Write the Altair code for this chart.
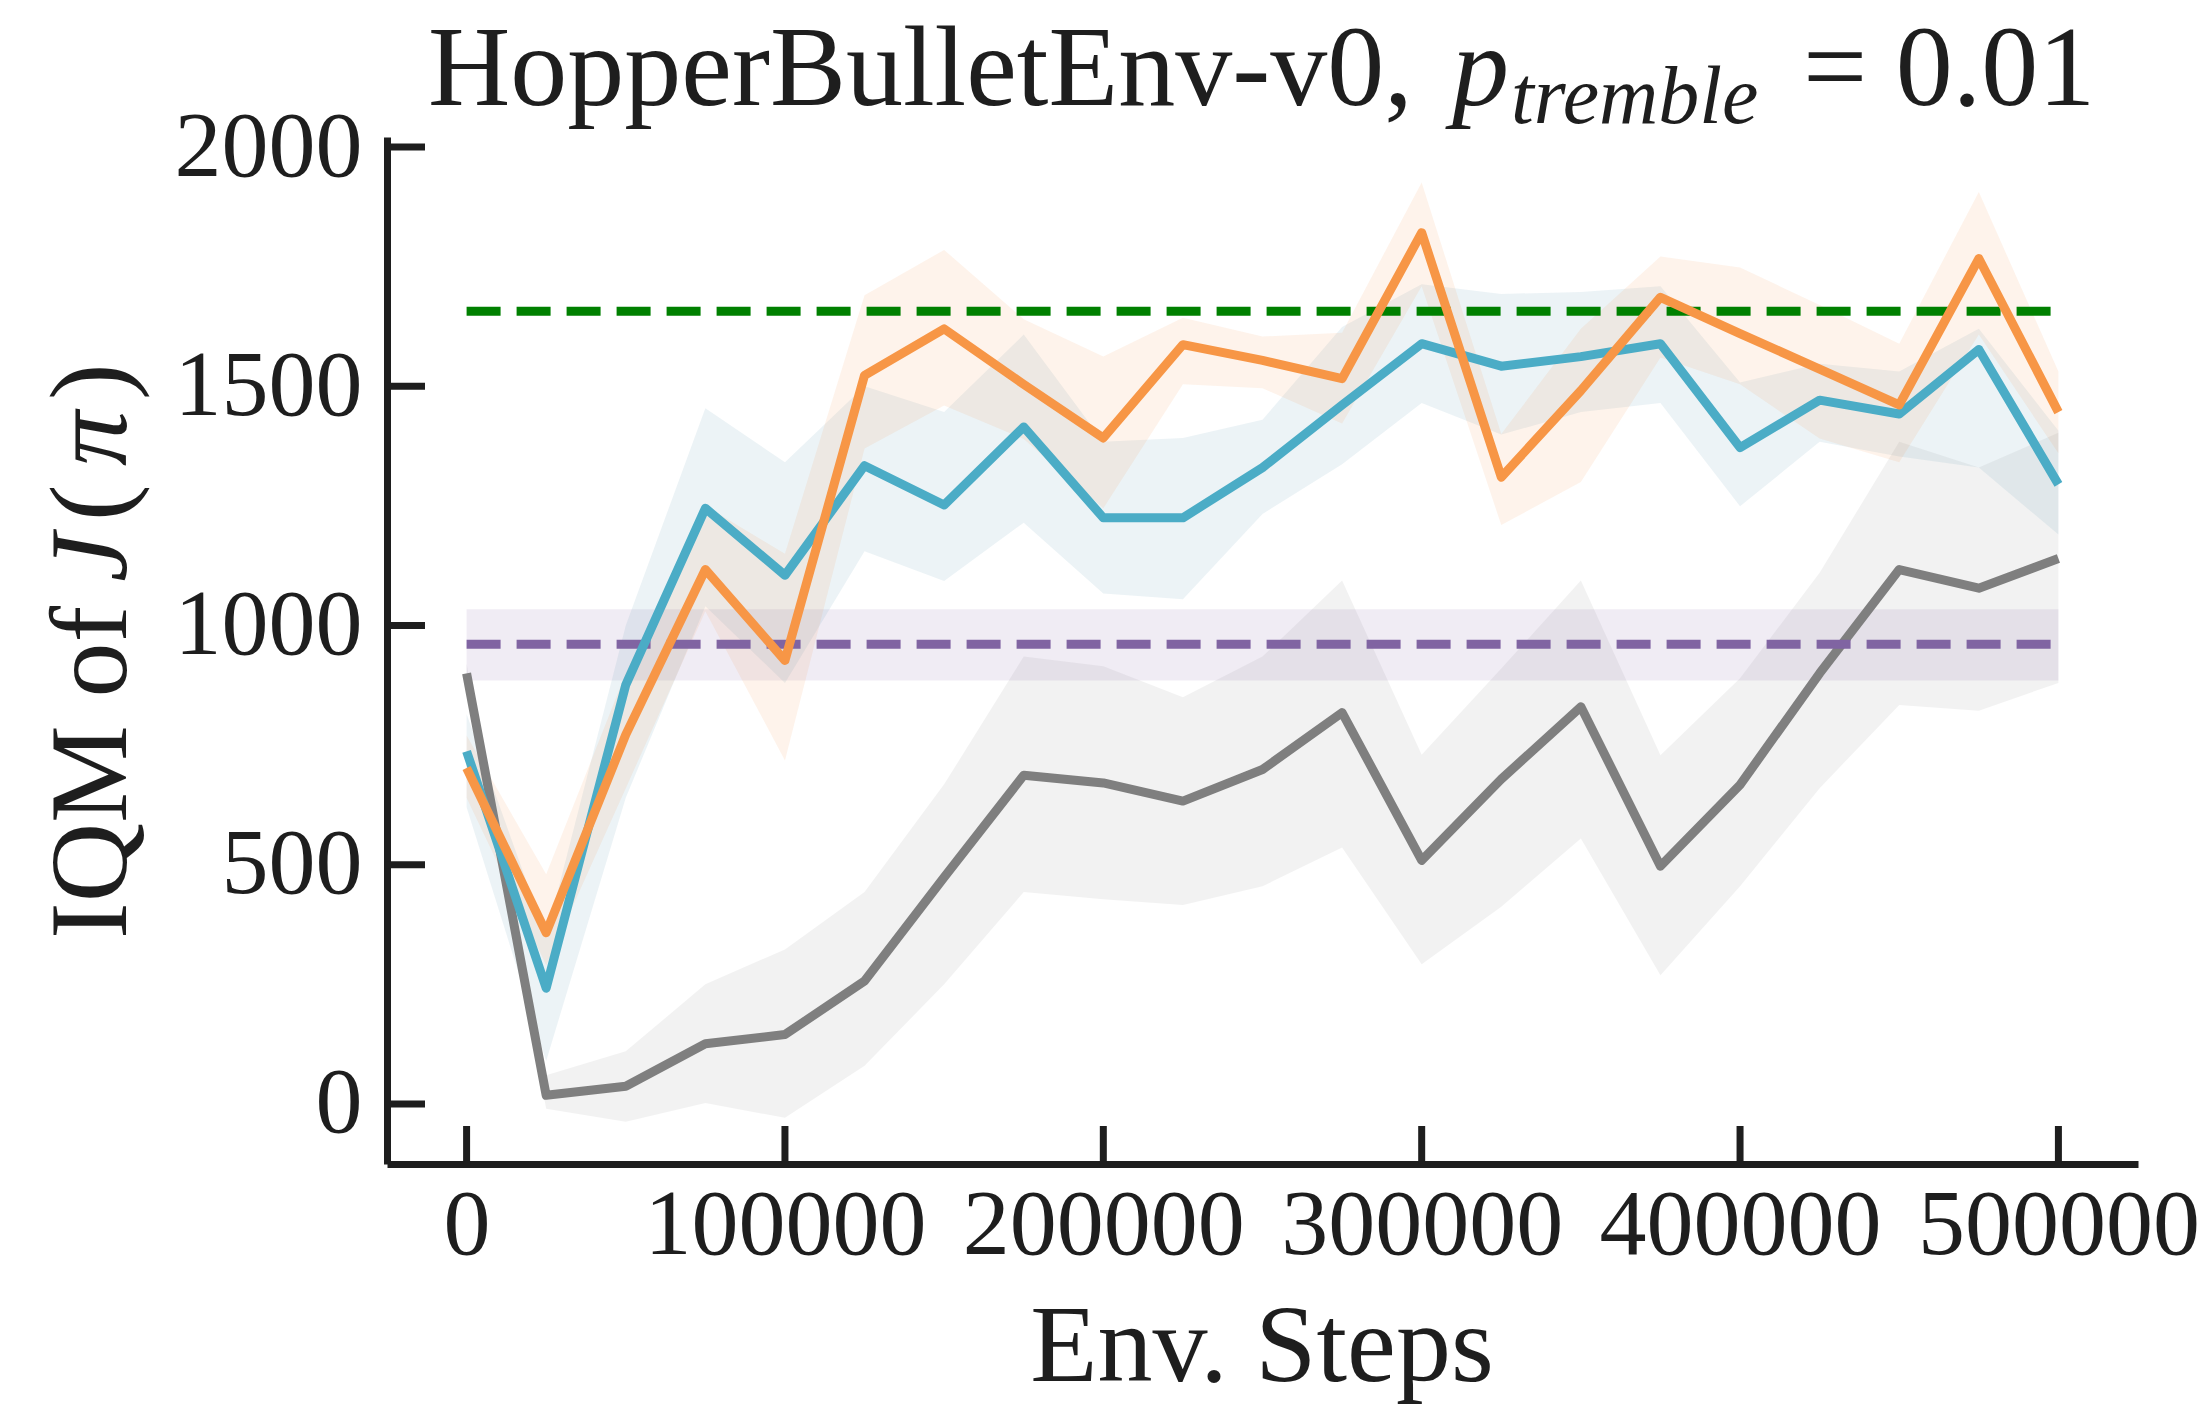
import altair as alt
import pandas as pd

# ---------------- data ----------------
steps = [0, 25000, 50000, 75000, 100000, 125000, 150000, 175000, 200000, 225000,
         250000, 275000, 300000, 325000, 350000, 375000, 400000, 425000, 450000,
         475000, 500000]

orange_mean = [702, 358, 772, 1117, 927, 1523, 1620, 1504, 1392, 1587, 1554,
               1516, 1821, 1310, 1491, 1686, 1610, 1536, 1461, 1767, 1446]
orange_lo = [640, 290, 660, 1030, 718, 1370, 1460, 1390, 1245, 1504, 1496,
             1422, 1709, 1210, 1300, 1560, 1504, 1391, 1341, 1608, 1360]
orange_hi = [770, 480, 900, 1250, 1150, 1690, 1785, 1640, 1562, 1643, 1604,
             1612, 1926, 1400, 1620, 1771, 1748, 1670, 1589, 1906, 1531]

blue_mean = [737, 242, 876, 1245, 1105, 1334, 1252, 1415, 1225, 1225, 1330,
             1461, 1589, 1542, 1562, 1589, 1372, 1471, 1442, 1577, 1295]
blue_lo = [620, 90, 640, 1040, 880, 1155, 1093, 1215, 1067, 1055, 1233,
           1337, 1465, 1399, 1446, 1465, 1249, 1384, 1353, 1330, 1190]
blue_hi = [815, 350, 1000, 1454, 1341, 1500, 1446, 1608, 1384, 1392, 1430,
           1624, 1713, 1693, 1697, 1709, 1508, 1547, 1531, 1620, 1407]

gray_mean = [900, 18, 37, 126, 145, 257, 474, 687, 671, 633, 699,
             818, 509, 679, 830, 497, 667, 900, 1117, 1078, 1140]
gray_lo = [880, -10, -37, 2, -29, 80, 250, 443, 428, 416, 455,
           536, 292, 412, 555, 269, 455, 660, 834, 822, 880]
gray_hi = [920, 60, 110, 250, 323, 443, 668, 935, 915, 850, 935,
           1094, 730, 910, 1094, 729, 890, 1110, 1384, 1330, 1403]

ref_steps = [0, 500000]
purple_level = [961, 961]
purple_lo = [885, 885]
purple_hi = [1034, 1034]
green_level = [1657, 1657]

x_ticks = [0, 100000, 200000, 300000, 400000, 500000]
y_ticks = [0, 500, 1000, 1500, 2000]

title_parts = ["HopperBulletEnv-v0,", "p", "tremble", "= 0.01"]
ytitle_parts = ["IQM of ", "J", "(", "\u03c0", ")"]
xtitle = ["Env. Steps"]

# ---------------- styling ----------------
W, H = 1751, 1027
PAD_L, PAD_T, PAD_R, PAD_B = 387, 137, 65, 243
FONT = "Liberation Serif"
INK = "#1e1e1e"
ORANGE, BLUE, GRAY = "#F79646", "#4BACC6", "#7F7F7F"
PURPLE, GREEN = "#8064A2", "#008000"
LW = 9

xs = alt.Scale(domain=[-25000, 525000], nice=False, zero=False)
ys = alt.Scale(domain=[-125.5, 2021], nice=False, zero=False)

common_axis = dict(format="d", title=None, ticks=False, grid=False,
                   domainColor=INK, domainWidth=7, labelFont=FONT,
                   labelFontSize=94, labelColor=INK, labelFlush=False,
                   labelOverlap=False, labelBound=False, labelLimit=2000)
xa = alt.Axis(values=x_ticks, labelPadding=15, **common_axis)
ya = alt.Axis(values=y_ticks, labelPadding=25, **common_axis)


def X(field):
    return alt.X(field, type="quantitative", scale=xs, axis=xa)


def Y(field):
    return alt.Y(field, type="quantitative", scale=ys, axis=ya)


def series_df(mean, lo, hi, xvals):
    return pd.DataFrame({"step": xvals, "mean": mean, "lo": lo, "hi": hi})


gray_df = series_df(gray_mean, gray_lo, gray_hi, steps)
blue_df = series_df(blue_mean, blue_lo, blue_hi, steps)
orange_df = series_df(orange_mean, orange_lo, orange_hi, steps)
purple_df = series_df(purple_level, purple_lo, purple_hi, ref_steps)
green_df = pd.DataFrame({"step": ref_steps, "mean": green_level})


def band(df, color, op):
    return alt.Chart(df).mark_area(color=color, opacity=op).encode(
        x=X("step"), y=Y("lo"), y2="hi")


def line(df, color, dash=None):
    kw = dict(color=color, strokeWidth=LW, strokeJoin="round")
    if dash:
        kw["strokeDash"] = dash
    return alt.Chart(df).mark_line(**kw).encode(x=X("step"), y=Y("mean"))


layers = [
    band(gray_df, GRAY, 0.1),
    band(purple_df, PURPLE, 0.12),
    band(blue_df, "#5F9EB8", 0.12),
    band(orange_df, ORANGE, 0.11),
    line(gray_df, GRAY),
    line(purple_df, PURPLE, [34, 16]),
    line(green_df, GREEN, [34, 16]),
    line(blue_df, BLUE),
    line(orange_df, ORANGE),
]

# inward ticks
xt = alt.Chart(pd.DataFrame({"t": x_ticks})).mark_rule(color=INK, strokeWidth=7).encode(
    x=X("t"), y=alt.value(H), y2=alt.value(H - 38))
yt = alt.Chart(pd.DataFrame({"t": y_ticks})).mark_rule(color=INK, strokeWidth=7).encode(
    y=Y("t"), x=alt.value(0), x2=alt.value(38))
layers += [xt, yt]


def txt(s, x, y, size, italic=False, angle=0, align="left"):
    kw = dict(font=FONT, fontSize=size, color=INK, align=align,
              baseline="alphabetic")
    if italic:
        kw["fontStyle"] = "italic"
    if angle:
        kw["angle"] = angle
    return alt.Chart(pd.DataFrame({"s": [s]})).mark_text(**kw).encode(
        text="s:N", x=alt.value(x), y=alt.value(y))


# title pieces
layers += [
    txt(title_parts[0], 41, -32, 114),
    txt(title_parts[1], 1065, -32, 114, italic=True),
    txt(title_parts[2], 1124, -14, 82, italic=True),
    txt(title_parts[3], 1416, -32, 114),
]
# y-axis title pieces (rotated)
yx = -261
layers += [
    txt(ytitle_parts[0], yx, 802, 110, angle=270),
    txt(ytitle_parts[1], yx, 445, 110, italic=True, angle=270),
    txt(ytitle_parts[2], yx, 384, 110, angle=270),
    txt(ytitle_parts[3], yx, 329, 110, italic=True, angle=270),
    txt(ytitle_parts[4], yx, 263, 110, angle=270),
]
# x-axis title
layers += [txt(xtitle[0], 875, 1244, 110, align="center")]

chart = alt.layer(*layers).properties(
    width=W, height=H,
    autosize=alt.AutoSizeParams(type="none"),
    padding={"left": PAD_L, "top": PAD_T, "right": PAD_R, "bottom": PAD_B},
    background="white",
).configure_view(stroke=None)

chart.save("out.html", embed_options={"renderer": "svg", "actions": False})
